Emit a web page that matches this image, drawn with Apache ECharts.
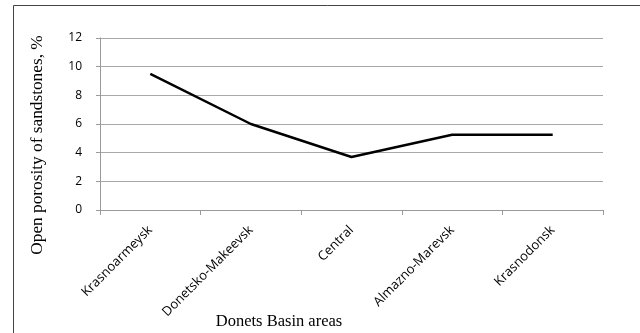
<!DOCTYPE html>
<html><head><meta charset="utf-8">
<script src="https://cdn.jsdelivr.net/npm/echarts@6/dist/echarts.min.js"></script>
<style>html,body{margin:0;padding:0;background:#fff}#c{width:640px;height:333px}</style>
</head><body><div id="c"></div>
<script>
const categories = ['Krasnoarmeysk', 'Donetsko-Makeevsk', 'Central', 'Almazno-Marevsk', 'Krasnodonsk'];
const porosity = [9.5, 6.0, 3.7, 5.25, 5.25];
const yTicks = [0, 2, 4, 6, 8, 10, 12];
const xTitle = 'Donets Basin areas';
const yTitle = 'Open porosity of sandstones, %';
const chart = echarts.init(document.getElementById('c'), null, {renderer: 'canvas'});
chart.setOption({
  animation: false,
  backgroundColor: '#fff',
  graphic: [
    {type: 'rect', shape: {x: 13.5, y: 5.5, width: 640, height: 340}, style: {fill: 'none', stroke: '#444', lineWidth: 1}, silent: true},
    {type: 'text', x: 279, y: 322, style: {text: xTitle, font: '16.5px "Liberation Serif"', fill: '#000', align: 'center', verticalAlign: 'middle'}},
    {type: 'text', x: 37, y: 145, rotation: Math.PI / 2, style: {text: yTitle, font: '17.3px "Liberation Serif"', fill: '#000', align: 'center', verticalAlign: 'middle'}}
  ],
  grid: {left: 100, right: 37, top: 38, bottom: 123},
  xAxis: {
    type: 'category', data: categories, boundaryGap: true,
    axisLine: {lineStyle: {color: '#9a9a9a', width: 1}},
    axisTick: {show: true, length: 5, alignWithLabel: false, lineStyle: {color: '#9a9a9a'}},
    axisLabel: {rotate: 45, fontFamily: 'Open Sans', fontSize: 13, color: '#000', margin: 18}
  },
  yAxis: {
    type: 'value', min: 0, max: 12, interval: 2,
    axisLine: {show: true, lineStyle: {color: '#9a9a9a', width: 1}},
    axisTick: {show: true, length: 4, lineStyle: {color: '#9a9a9a'}},
    axisLabel: {fontFamily: 'Open Sans', fontSize: 12, color: '#000', margin: 18,
      formatter: v => yTicks.includes(v) ? String(v) : ''},
    splitLine: {lineStyle: {color: '#a8a8a8', width: 1}}
  },
  series: [{
    type: 'line', data: porosity, symbol: 'none',
    lineStyle: {color: '#000', width: 2.5}
  }]
});
</script></body></html>
